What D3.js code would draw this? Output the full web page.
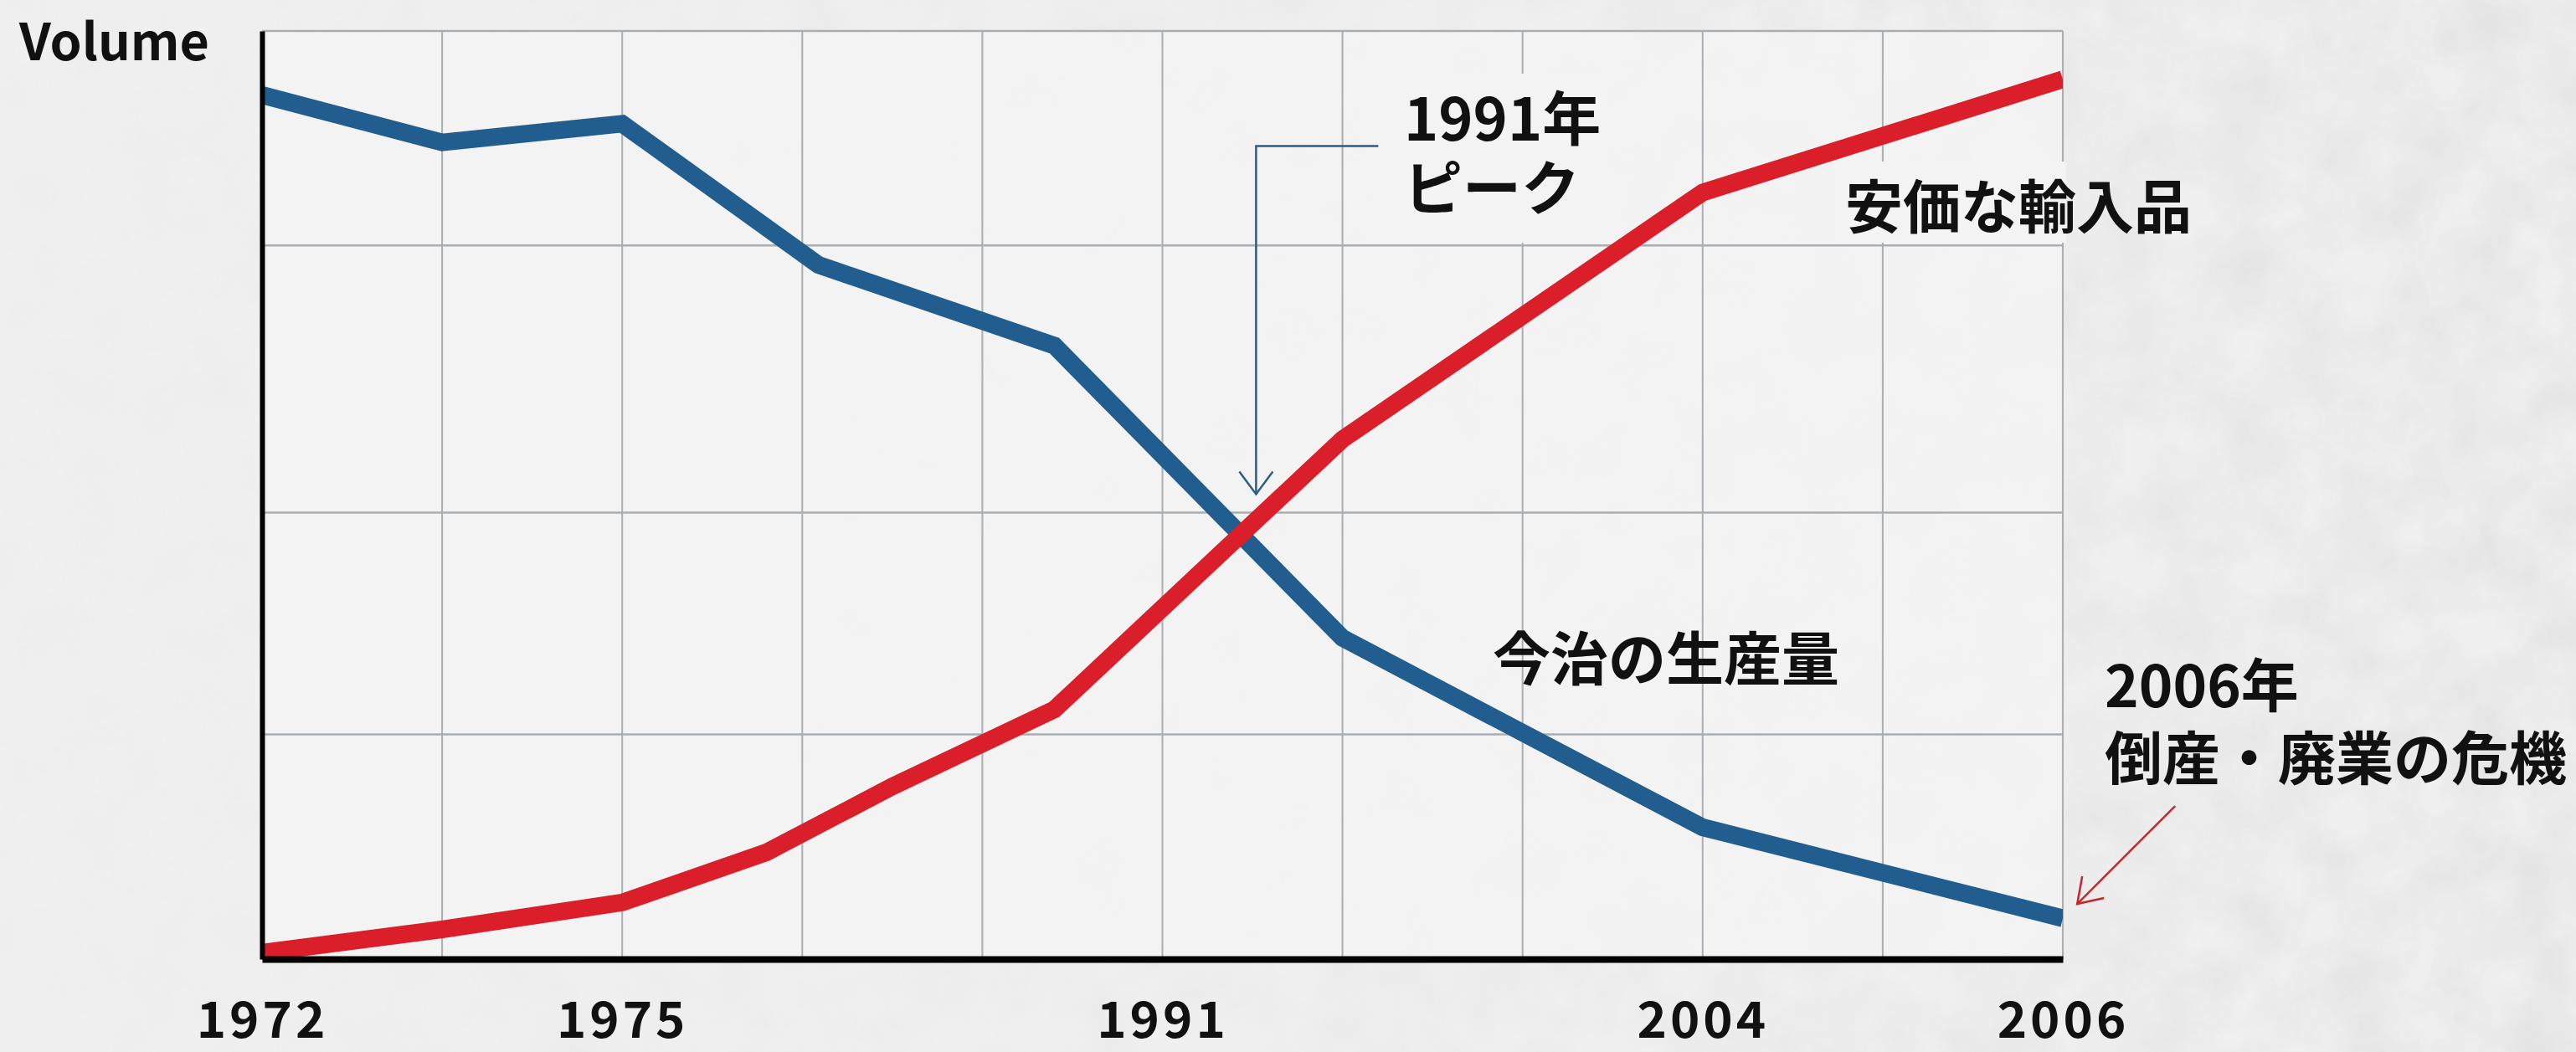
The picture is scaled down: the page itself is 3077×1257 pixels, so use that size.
<!DOCTYPE html>
<html>
<head>
<meta charset="utf-8">
<script src="https://cdn.jsdelivr.net/npm/d3@7"></script>
<style>
  html, body { margin: 0; padding: 0; background: #efefef; }
  svg { display: block; }
  text { font-family: "Noto Sans CJK JP", "Noto Sans", sans-serif; font-weight: 700; fill: #111; }
</style>
</head>
<body>
<svg id="chart"></svg>
<script>
// x positions are in grid steps (0..10), only some steps carry a year label
var yearLabels = ["1972", "1975", "1991", "2004", "2006"];
var yearSteps = [0, 2, 5, 8, 10];

// 今治の生産量 (blue)
var prodX = [0, 1, 2, 3.09, 4.4, 6, 8, 9, 10];
var prodY = [93.1, 88.0, 90.0, 74.8, 66.1, 34.6, 14.2, 9.3, 4.4];

// 安価な輸入品 (red)
var importX = [0, 1, 2, 2.8, 3.5, 4.4, 6, 8, 10];
var importY = [0.7, 3.2, 6.1, 11.5, 18.6, 26.9, 56.0, 82.6, 94.8];

// horizontal grid lines are not evenly spaced in the original
var gridY = [24.2, 48.1, 76.9, 100];

var svgWidth = 3077,
    svgHeight = 1257;
var margin = { top: 37, right: 613, bottom: 111, left: 313 };
var width = svgWidth - margin.left - margin.right;
var height = svgHeight - margin.top - margin.bottom;

var svg = d3.select("#chart")
    .attr("width", svgWidth)
    .attr("height", svgHeight);

// paper-ish background, texture gets stronger towards the right
var defs = svg.append("defs");
var noise = defs.append("filter").attr("id", "paper")
    .attr("x", 0).attr("y", 0).attr("width", "100%").attr("height", "100%");
noise.append("feTurbulence")
    .attr("type", "fractalNoise")
    .attr("baseFrequency", 0.014)
    .attr("numOctaves", 4)
    .attr("seed", 7);
noise.append("feColorMatrix")
    .attr("type", "matrix")
    .attr("values", "0 0 0 0 0.5  0 0 0 0 0.5  0 0 0 0 0.5  0 0 0 0.35 -0.08");

var fade = defs.append("linearGradient").attr("id", "fade");
fade.append("stop").attr("offset", "0%").attr("stop-color", "#fff").attr("stop-opacity", 0.15);
fade.append("stop").attr("offset", "55%").attr("stop-color", "#fff").attr("stop-opacity", 0.35);
fade.append("stop").attr("offset", "100%").attr("stop-color", "#fff").attr("stop-opacity", 1);
defs.append("mask").attr("id", "fademask")
    .append("rect")
    .attr("width", svgWidth).attr("height", svgHeight)
    .attr("fill", "url(#fade)");

svg.append("rect")
    .attr("width", svgWidth).attr("height", svgHeight)
    .attr("fill", "#f0f0f0");
svg.append("rect")
    .attr("width", svgWidth).attr("height", svgHeight)
    .attr("filter", "url(#paper)")
    .attr("mask", "url(#fademask)");

defs.append("clipPath").attr("id", "plotclip")
    .append("rect")
    .attr("x", 0).attr("y", -40)
    .attr("width", width).attr("height", height + 44);

var g = svg.append("g")
    .attr("transform", "translate(" + margin.left + "," + margin.top + ")");

var x = d3.scaleLinear().domain([0, 10]).range([0, width]);
var y = d3.scaleLinear().domain([0, 100]).range([height, 0]);

// plot area
g.append("rect")
    .attr("width", width).attr("height", height)
    .attr("fill", "#f4f4f4")
    .attr("opacity", 0.8);

// grid
g.append("g")
    .selectAll("line")
    .data(d3.range(1, 11))
    .join("line")
    .attr("x1", function(d) { return x(d) })
    .attr("x2", function(d) { return x(d) })
    .attr("y1", y(100))
    .attr("y2", y(0))
    .attr("stroke", "#a9aeb3")
    .attr("stroke-width", 2);

g.append("g")
    .selectAll("line")
    .data(gridY)
    .join("line")
    .attr("x1", x(0))
    .attr("x2", x(10))
    .attr("y1", function(d) { return y(d) })
    .attr("y2", function(d) { return y(d) })
    .attr("stroke", "#a9aeb3")
    .attr("stroke-width", 2.5);

// boxes behind the in-plot labels hide the grid like the original
function labelBox(x0, y0, w, h) {
    svg.append("rect")
        .attr("x", x0).attr("y", y0)
        .attr("width", w).attr("height", h)
        .attr("fill", "#f3f3f3");
}
labelBox(1662, 88, 260, 202);
labelBox(2190, 193, 278, 97);

// lines
var line = d3.line()
    .x(function(d) { return x(d[0]) })
    .y(function(d) { return y(d[1]) });

var lines = g.append("g").attr("clip-path", "url(#plotclip)");

lines.append("path")
    .datum(d3.zip(prodX, prodY))
    .attr("fill", "none")
    .attr("stroke", "#215d8e")
    .attr("stroke-width", 21)
    .attr("stroke-linejoin", "miter")
    .attr("d", line);

lines.append("path")
    .datum(d3.zip(importX, importY))
    .attr("fill", "none")
    .attr("stroke", "#db1f2a")
    .attr("stroke-width", 21)
    .attr("stroke-linejoin", "miter")
    .attr("d", line);

// axes
var xAxis = g.append("g")
    .attr("transform", "translate(0," + height + ")")
    .call(d3.axisBottom(x)
        .tickValues(yearSteps)
        .tickFormat(function(d, i) { return yearLabels[i] })
        .tickSize(0)
        .tickPadding(51));
xAxis.select(".domain").attr("stroke", "#000").attr("stroke-width", 8);
xAxis.selectAll("text")
    .attr("font-size", 60)
    .attr("letter-spacing", 4)
    .attr("font-family", "'Noto Sans CJK JP', sans-serif")
    .attr("font-weight", 700)
    .attr("fill", "#111");

var yAxis = g.append("g")
    .call(d3.axisLeft(y).tickValues([]).tickSize(0));
yAxis.select(".domain").attr("stroke", "#000").attr("stroke-width", 6);

svg.append("text")
    .attr("x", 23).attr("y", 72)
    .attr("font-size", 61)
    .text("Volume");

// multi-line labels as one text element
function label(x0, y0, size, rows, gap) {
    var t = svg.append("text")
        .attr("x", x0).attr("y", y0)
        .attr("font-size", size);
    rows.forEach(function(r, i) {
        t.append("tspan")
            .attr("x", x0)
            .attr("dy", i === 0 ? 0 : gap)
            .text(r);
    });
}

// annotation: 1991 peak
var callout = g.append("g")
    .attr("fill", "none")
    .attr("stroke", "#2d5e84")
    .attr("stroke-width", 2.5);
var px = x(5.52), py = y(50.1), ptop = y(87.6);
callout.append("path")
    .attr("d", "M" + (px + 146) + "," + ptop + "H" + px + "V" + py);
callout.append("path")
    .attr("d", "M" + (px - 20) + "," + (py - 27) + "L" + px + "," + py + "L" + (px + 20) + "," + (py - 27));

label(1677, 168, 70, ["1991年", "ピーク"], 83);
label(2204, 273, 69, ["安価な輸入品"], 0);
label(1783, 813, 69, ["今治の生産量"], 0);
label(2514, 845, 69, ["2006年", "倒産・廃業の危機"], 87);

// annotation arrow: 2006
var ax = x(10.08), ay = y(5.95);
var arrow = g.append("g")
    .attr("fill", "none")
    .attr("stroke", "#c9252d")
    .attr("stroke-width", 2.5);
arrow.append("path")
    .attr("d", "M" + (ax + 117) + "," + (ay - 117) + "L" + ax + "," + ay);
arrow.append("path")
    .attr("d", "M" + (ax + 6) + "," + (ay - 33) + "L" + ax + "," + ay + "L" + (ax + 32) + "," + (ay - 7));
</script>
</body>
</html>
